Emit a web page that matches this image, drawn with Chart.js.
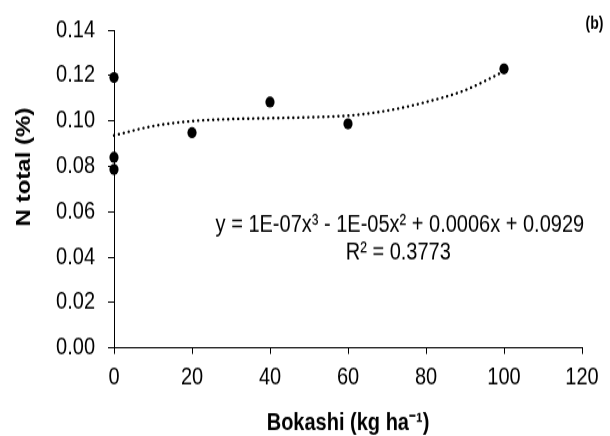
<!DOCTYPE html>
<html>
<head>
<meta charset="utf-8">
<script src="https://cdn.jsdelivr.net/npm/chart.js@4"></script>
<style>
  html, body { margin: 0; padding: 0; background: #fff; }
  body { width: 610px; height: 436px; }
  #chart { display: block; transform: scaleY(1.2011); transform-origin: 0 0; }
</style>
</head>
<body>
<canvas id="chart" width="610" height="363"></canvas>
<script>
const bokashiDose = [0, 0, 0, 20, 40, 60, 100];
const nTotal = [0.1191, 0.0840, 0.0786, 0.0948, 0.1083, 0.0987, 0.1229];

// dotted trend line
const trendDose = [0, 10, 20, 30, 40, 50, 60, 70, 80, 90, 100];
const trendN = [0.0936, 0.0977, 0.0999, 0.1008, 0.1012, 0.1016, 0.1023, 0.1045, 0.1083, 0.1135, 0.1218];

const xTicks = [0, 20, 40, 60, 80, 100, 120];
const yTicks = [0, 0.02, 0.04, 0.06, 0.08, 0.10, 0.12, 0.14];

const equationText = 'y = 1E-07x³ - 1E-05x² + 0.0006x + 0.0929';
const r2Text = 'R² = 0.3773';

const FONT = "'Liberation Sans', Arial, sans-serif";

const textPlugin = {
  id: 'texts',
  afterDraw(chart) {
    const { ctx, scales: { x, y } } = chart;
    ctx.save();
    ctx.fillStyle = '#000';
    ctx.textAlign = 'center';
    ctx.textBaseline = 'middle';
    ctx.font = `20px ${FONT}`;
    ctx.fillText(equationText, x.getPixelForValue(73.3), y.getPixelForValue(0.0542));
    ctx.fillText(r2Text, x.getPixelForValue(72.9), y.getPixelForValue(0.0419));

    ctx.font = `bold 14px ${FONT}`;
    ctx.textAlign = 'right';
    ctx.fillText('(b)', 603.5, 20.6);

    // y axis title
    ctx.translate(24.5, 139);
    ctx.rotate(-Math.PI / 2);
    ctx.textAlign = 'center';
    ctx.font = `bold 20px ${FONT}`;
    ctx.fillText('N total (%)', 0, 0);
    ctx.restore();
  }
};

new Chart(document.getElementById('chart'), {
  type: 'scatter',
  data: {
    datasets: [
      {
        type: 'line',
        data: trendDose.map((v, i) => ({ x: v, y: trendN[i] })),
        borderColor: '#000',
        borderWidth: 2.4,
        borderDash: [0.01, 5],
        borderCapStyle: 'round',
        cubicInterpolationMode: 'monotone',
        pointRadius: 0,
        fill: false,
        clip: false
      },
      {
        data: bokashiDose.map((v, i) => ({ x: v, y: nTotal[i] })),
        backgroundColor: '#000',
        borderColor: '#000',
        borderWidth: 0,
        pointRadius: 4.6,
        clip: false
      }
    ]
  },
  options: {
    responsive: false,
    animation: false,
    layout: { padding: { top: 21.6, right: 28, bottom: 0, left: 0 } },
    plugins: {
      legend: { display: false },
      tooltip: { enabled: false }
    },
    scales: {
      x: {
        type: 'linear',
        min: 0,
        max: 120,
        afterBuildTicks: s => { s.ticks = xTicks.map(v => ({ value: v })); },
        afterFit: s => { s.height = 73.3; },
        ticks: { color: '#000', padding: 8, autoSkip: false, font: { family: FONT, size: 20 } },
        grid: { drawOnChartArea: false, color: '#000', tickLength: 5 },
        border: { color: '#000', width: 1 },
        title: {
          display: true,
          text: 'Bokashi (kg ha⁻¹)',
          color: '#000',
          font: { family: FONT, size: 20, weight: 'bold' },
          padding: { top: 0, bottom: -1.5 }
        }
      },
      y: {
        min: 0,
        max: 0.14,
        afterBuildTicks: s => { s.ticks = yTicks.map(v => ({ value: v })); },
        afterFit: s => { s.width = 114; },
        ticks: {
          color: '#000',
          padding: 13,
          font: { family: FONT, size: 20 },
          callback: v => v.toFixed(2)
        },
        grid: { drawOnChartArea: false, color: '#000', tickLength: 6 },
        border: { color: '#000', width: 1 }
      }
    }
  },
  plugins: [textPlugin]
});
</script>
</body>
</html>
